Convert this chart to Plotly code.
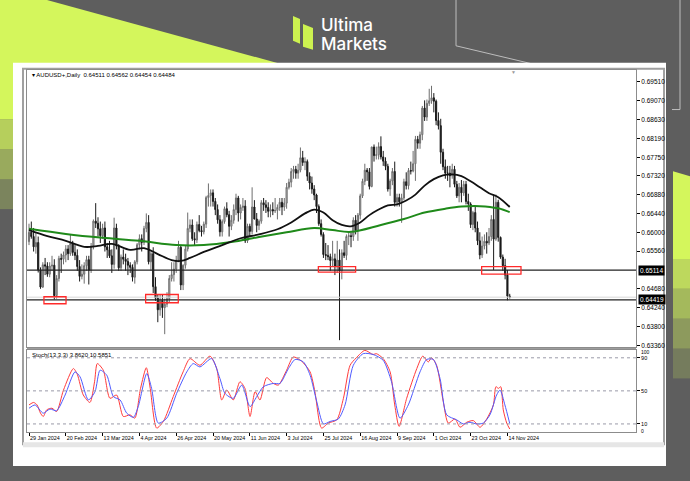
import plotly.graph_objects as go

W, H = 690, 481
def px(x): return x / W
def py(y): return 1 - y / H

# ---------------- data ----------------
tick_labels = ["29 Jan 2024", "20 Feb 2024", "13 Mar 2024", "4 Apr 2024", "26 Apr 2024",
               "20 May 2024", "11 Jun 2024", "3 Jul 2024", "25 Jul 2024", "16 Aug 2024",
               "9 Sep 2024", "1 Oct 2024", "23 Oct 2024", "14 Nov 2024"]
tick_index = [0, 16, 32, 48, 64, 80, 96, 112, 128, 144, 160, 176, 192, 208]

# daily candles, in pips (price * 10000)
opens = [6578, 6600, 6590, 6566, 6576, 6512, 6472, 6524, 6521, 6502, 6521, 6523, 6452, 6492, 6539, 6537, 6547, 6561, 6550, 6574,
         6553, 6546, 6520, 6497, 6502, 6522, 6536, 6511, 6568, 6626, 6621, 6608, 6592, 6610, 6566, 6559, 6545, 6525, 6610, 6568,
         6517, 6542, 6537, 6532, 6523, 6518, 6495, 6531, 6571, 6585, 6576, 6609, 6623, 6531, 6550, 6473, 6446, 6419, 6441, 6424,
         6432, 6445, 6492, 6501, 6514, 6535, 6565, 6477, 6523, 6561, 6609, 6617, 6585, 6582, 6618, 6604, 6601, 6619, 6681, 6686,
         6692, 6672, 6653, 6629, 6601, 6625, 6655, 6641, 6614, 6628, 6653, 6680, 6645, 6658, 6661, 6580, 6614, 6602, 6659, 6631,
         6616, 6626, 6669, 6664, 6658, 6649, 6653, 6650, 6651, 6658, 6670, 6659, 6668, 6705, 6717, 6742, 6747, 6738, 6745, 6774,
         6763, 6765, 6731, 6715, 6701, 6687, 6660, 6620, 6595, 6548, 6546, 6543, 6534, 6538, 6521, 6535, 6510, 6552, 6546, 6590,
         6592, 6590, 6628, 6604, 6640, 6685, 6719, 6745, 6741, 6707, 6799, 6779, 6781, 6800, 6776, 6766, 6754, 6701, 6720, 6742,
         6670, 6681, 6671, 6680, 6718, 6709, 6744, 6743, 6760, 6817, 6808, 6828, 6890, 6869, 6901, 6907, 6914, 6906, 6861, 6849,
         6787, 6753, 6738, 6738, 6732, 6747, 6712, 6685, 6705, 6692, 6712, 6672, 6666, 6618, 6646, 6610, 6580, 6547, 6568, 6579,
         6575, 6590, 6630, 6584, 6670, 6588, 6542, 6522, 6500, 6451.1]
highs = [6620, 6625, 6610, 6600, 6590, 6518, 6530, 6540, 6530, 6530, 6545, 6537, 6500, 6545, 6550, 6555, 6570, 6570, 6595, 6580,
         6570, 6560, 6535, 6525, 6530, 6545, 6545, 6575, 6630, 6668, 6635, 6625, 6620, 6625, 6575, 6580, 6560, 6634, 6620, 6572,
         6548, 6560, 6550, 6540, 6530, 6525, 6535, 6575, 6595, 6595, 6615, 6644, 6640, 6555, 6565, 6495, 6455, 6455, 6455, 6445,
         6460, 6500, 6530, 6530, 6545, 6580, 6570, 6525, 6570, 6646, 6630, 6630, 6600, 6625, 6640, 6615, 6625, 6685, 6714, 6700,
         6700, 6680, 6665, 6640, 6630, 6660, 6670, 6650, 6640, 6665, 6690, 6685, 6665, 6680, 6675, 6620, 6620, 6705, 6675, 6645,
         6630, 6675, 6680, 6675, 6670, 6665, 6670, 6680, 6665, 6680, 6680, 6680, 6715, 6725, 6750, 6755, 6755, 6760, 6798, 6790,
         6775, 6770, 6740, 6730, 6710, 6690, 6665, 6630, 6600, 6575, 6570, 6550, 6580, 6550, 6580, 6560, 6560, 6580, 6595, 6600,
         6600, 6635, 6640, 6645, 6690, 6725, 6760, 6750, 6750, 6800, 6805, 6800, 6810, 6824, 6790, 6775, 6760, 6725, 6750, 6765,
         6690, 6690, 6690, 6725, 6740, 6750, 6765, 6790, 6825, 6825, 6835, 6895, 6908, 6910, 6935, 6942, 6925, 6910, 6880, 6865,
         6795, 6770, 6755, 6755, 6760, 6755, 6720, 6715, 6722, 6720, 6720, 6690, 6670, 6650, 6660, 6625, 6600, 6590, 6595, 6600,
         6610, 6640, 6688, 6688, 6676, 6590, 6548, 6538, 6512, 6456.2]
lows = [6570, 6585, 6555, 6550, 6506, 6468, 6470, 6500, 6496, 6495, 6510, 6443, 6445, 6485, 6505, 6525, 6530, 6535, 6545, 6545,
        6535, 6510, 6485, 6490, 6480, 6510, 6478, 6505, 6560, 6610, 6590, 6575, 6585, 6555, 6540, 6540, 6505, 6515, 6560, 6510,
        6510, 6525, 6510, 6500, 6505, 6485, 6480, 6525, 6560, 6555, 6570, 6600, 6525, 6510, 6458, 6440, 6390, 6405, 6400, 6362,
        6425, 6435, 6485, 6485, 6505, 6530, 6465, 6465, 6515, 6555, 6600, 6580, 6570, 6575, 6600, 6590, 6595, 6610, 6660, 6660,
        6660, 6640, 6620, 6590, 6590, 6620, 6635, 6590, 6605, 6620, 6640, 6625, 6630, 6650, 6575, 6575, 6590, 6595, 6630, 6600,
        6605, 6620, 6650, 6645, 6635, 6635, 6640, 6645, 6630, 6650, 6640, 6650, 6655, 6700, 6705, 6725, 6725, 6725, 6740, 6755,
        6745, 6720, 6700, 6690, 6675, 6645, 6615, 6590, 6540, 6535, 6535, 6510, 6520, 6500, 6505, 6348, 6490, 6540, 6535, 6570,
        6565, 6580, 6595, 6580, 6630, 6680, 6710, 6720, 6700, 6705, 6765, 6770, 6770, 6770, 6755, 6745, 6695, 6685, 6710, 6660,
        6660, 6660, 6622, 6675, 6700, 6700, 6735, 6740, 6720, 6795, 6795, 6815, 6860, 6860, 6895, 6900, 6880, 6850, 6840, 6760,
        6745, 6725, 6720, 6705, 6725, 6705, 6680, 6670, 6670, 6685, 6665, 6650, 6610, 6605, 6600, 6570, 6537, 6540, 6560, 6550,
        6570, 6580, 6512, 6580, 6578, 6538, 6510, 6490, 6441, 6445.4]
closes = [6600, 6590, 6566, 6576, 6512, 6472, 6524, 6521, 6502, 6521, 6523, 6452, 6492, 6539, 6537, 6547, 6561, 6550, 6574, 6553,
          6546, 6520, 6497, 6502, 6522, 6536, 6511, 6568, 6626, 6621, 6608, 6592, 6610, 6566, 6559, 6545, 6525, 6610, 6568, 6517,
          6542, 6537, 6532, 6523, 6518, 6495, 6531, 6571, 6585, 6576, 6609, 6623, 6531, 6550, 6473, 6446, 6419, 6441, 6424, 6432,
          6445, 6492, 6501, 6514, 6535, 6565, 6477, 6523, 6561, 6609, 6617, 6585, 6582, 6618, 6604, 6601, 6619, 6681, 6686, 6692,
          6672, 6653, 6629, 6601, 6625, 6655, 6641, 6614, 6628, 6653, 6680, 6645, 6658, 6661, 6580, 6614, 6602, 6659, 6631, 6616,
          6626, 6669, 6664, 6658, 6649, 6653, 6650, 6651, 6658, 6670, 6659, 6668, 6705, 6717, 6742, 6747, 6738, 6745, 6774, 6763,
          6765, 6731, 6715, 6701, 6687, 6660, 6620, 6595, 6548, 6546, 6543, 6534, 6538, 6521, 6535, 6510, 6552, 6546, 6590, 6592,
          6590, 6628, 6604, 6640, 6685, 6719, 6745, 6741, 6707, 6799, 6779, 6781, 6800, 6776, 6766, 6754, 6701, 6720, 6742, 6670,
          6681, 6671, 6680, 6718, 6709, 6744, 6743, 6760, 6817, 6808, 6828, 6890, 6869, 6901, 6907, 6914, 6906, 6861, 6849, 6787,
          6753, 6738, 6738, 6732, 6747, 6712, 6685, 6705, 6692, 6712, 6672, 6666, 6618, 6646, 6610, 6580, 6547, 6568, 6579, 6575,
          6590, 6630, 6584, 6670, 6588, 6542, 6522, 6500, 6451.1, 6448.4]

# moving averages (black = fast, green = slow), sampled at bar indices
ma_black_idx = [0, 8, 16, 24, 30, 36, 44, 50, 56, 62, 66, 70, 76, 84, 92, 100, 108, 114, 120, 124, 128, 132, 136, 140,
                144, 148, 152, 156, 160, 164, 168, 172, 176, 180, 184, 188, 192, 196, 200, 204, 209]
ma_black = [0.6605, 0.6591, 0.6580, 0.6566, 0.6568, 0.6573, 0.6559, 0.6563, 0.6549, 0.6535, 0.6533, 0.6540, 0.6554, 0.6570,
            0.6586, 0.6595, 0.6607, 0.6623, 0.6644, 0.6653, 0.6646, 0.6628, 0.6617, 0.6614, 0.6623, 0.6640, 0.6653, 0.6663,
            0.6665, 0.6674, 0.6688, 0.6709, 0.6724, 0.6733, 0.6735, 0.6731, 0.6719, 0.6705, 0.6691, 0.6682, 0.6659]
ma_green_idx = [0, 16, 32, 48, 64, 76, 88, 100, 112, 124, 132, 140, 153, 163, 172, 181, 188, 196, 204, 209]
ma_green = [0.6608, 0.6596, 0.6587, 0.6580, 0.6570, 0.6570, 0.6577, 0.6589, 0.6600, 0.6610, 0.6605, 0.6601, 0.6617,
            0.6631, 0.6646, 0.6655, 0.6660, 0.6661, 0.6656, 0.6647]

# Stochastic(13,3,3): red = main, blue = signal
stoch_k_idx = [0, 2, 3.5, 5, 6.2, 7.7, 10, 12, 15, 19.3, 21, 23.6, 26.5, 28.5, 29.7, 32.3, 35.2, 38.1, 41, 43.9, 46,
               48.5, 51, 52.7, 55.5, 58.4, 62.7, 67, 70, 74.3, 78.7, 81.6, 83.8, 86, 88.8, 91.7, 93.9, 96.1, 98.3,
               100.4, 103.3, 106.2, 108.4, 112, 114.9, 118.5, 122.2, 124.3, 127.2, 130.1, 133.8, 136.7, 139.6,
               142.3, 146, 149.6, 151, 154, 157, 159, 160.9, 164.2, 168.6, 171.2, 173.6, 175, 177.2, 180.1, 182.3,
               185.2, 187.4, 190.3, 193.2, 196.1, 199, 201.9, 203, 204.1, 205.1, 206.2, 207.7, 209]
stoch_k = [33, 36, 33, 23, 19, 27, 29, 25, 51, 77, 70, 45, 36, 61, 83, 75, 41, 45, 19, 21, 17,
           53, 78, 53, 5, 13, 43, 73, 89, 81, 92, 77, 39, 51, 39, 61, 53, 19, 49,
           39, 66, 59, 57, 75, 91, 86, 73, 49, 5, 11, 15, 41, 81,
           90, 99, 94, 95, 89, 73, 33, 7, 41, 77, 92, 85, 90, 81, 37, 11,
           16, 6, 12, 14, 6, 16, 33, 55, 53, 55, 27, 11, 3.86]
stoch_d_idx = [0, 2.6, 6.2, 9.1, 12, 15.7, 20, 22.2, 25.8, 28.7, 30.9, 33.8, 36.7, 39.6, 42.5, 45.4, 47.5, 51.2,
               53.3, 56.2, 59.9, 64.2, 68.6, 71.4, 74.3, 79.4, 83, 85.2, 88.8, 92.5, 96.1, 99, 101.9, 106.2, 109.1,
               112.8, 115.7, 119.3, 122.2, 125.1, 128, 130.9, 134.5, 137.4, 141, 145.3, 149.6, 154, 157.6, 161.3,
               164.9, 170, 172.9, 175.8, 178.7, 181.6, 185.9, 188.8, 191.7, 194.6, 197.5, 200.4, 203.3, 204.8,
               206.9, 209]
stoch_d = [29, 33, 23, 28, 26, 45, 73, 67, 39, 49, 75, 69, 43, 39, 23, 18, 31, 71,
           53, 11, 17, 47, 73, 83, 79, 89, 65, 47, 41, 57, 31, 43, 55, 59, 59,
           77, 88, 85, 69, 37, 10, 13, 16, 33, 81, 95, 94, 87, 61, 17,
           33, 73, 88, 88, 65, 21, 15, 10, 12, 10, 11, 21, 45, 51,
           33, 10.59]

level_hi = 0.65114
level_lo = 0.64419
bid = 0.64484
y_ticks = [0.69510, 0.69070, 0.68630, 0.68190, 0.67750, 0.67320, 0.66880, 0.66440, 0.66000, 0.65560,
           0.64680, 0.64240, 0.63800, 0.63360]
stoch_ticks = [10, 50, 90]
# red highlight boxes: (start bar, end bar, low price, high price)
boxes = [(6.5, 16.1, 0.64331, 0.64494), (50.7, 64.9, 0.64354, 0.64547),
         (125.8, 142.0, 0.65068, 0.65199), (196.8, 213.9, 0.65022, 0.65199)]

# ---------------- figure ----------------
idx = list(range(len(closes)))
P = 10000.0
fig = go.Figure()
fig.add_trace(go.Candlestick(
    x=idx, open=[v / P for v in opens], high=[v / P for v in highs],
    low=[v / P for v in lows], close=[v / P for v in closes],
    increasing=dict(line=dict(color="#6e6e6e", width=1), fillcolor="#c8c8c8"),
    decreasing=dict(line=dict(color="#1a1a1a", width=1), fillcolor="#1a1a1a"),
    whiskerwidth=0, xaxis="x", yaxis="y", hoverinfo="skip"))
fig.add_trace(go.Scatter(x=ma_green_idx, y=ma_green, mode="lines", line=dict(color="#1f8a1a", width=2, shape="spline"),
                         xaxis="x", yaxis="y", hoverinfo="skip"))
fig.add_trace(go.Scatter(x=ma_black_idx, y=ma_black, mode="lines", line=dict(color="#111111", width=1.8, shape="spline"),
                         xaxis="x", yaxis="y", hoverinfo="skip"))
fig.add_trace(go.Scatter(x=stoch_k_idx, y=stoch_k, mode="lines",
                         line=dict(color="#ff3b3b", width=1, shape="spline", smoothing=0.7),
                         xaxis="x2", yaxis="y2", hoverinfo="skip"))
fig.add_trace(go.Scatter(x=stoch_d_idx, y=stoch_d, mode="lines",
                         line=dict(color="#4f5bff", width=1, shape="spline", smoothing=0.7),
                         xaxis="x2", yaxis="y2", hoverinfo="skip"))

xl, xr = 27, 636
xrange = [-0.87, 263.9]
y_top_price = 0.6951 + (82.3 - 70) / 4300
y_bot_price = 0.6951 - (348 - 82.3) / 4300

axis_font = dict(family="Liberation Sans", size=6.5, color="#000000")
date_font = dict(family="Liberation Sans", size=5.4, color="#000000")
fig.update_layout(
    width=W, height=H, margin=dict(l=0, r=0, t=0, b=0),
    paper_bgcolor="#5e5e5e", plot_bgcolor="rgba(0,0,0,0)", showlegend=False,
    font=dict(family="Liberation Sans", size=6.5, color="#000000"),
    xaxis=dict(domain=[px(xl), px(xr)], range=xrange, anchor="y", showticklabels=False, showgrid=False,
               zeroline=False, showline=True, mirror=True, linecolor="#8c8c8c", linewidth=1,
               rangeslider=dict(visible=False), fixedrange=True),
    yaxis=dict(domain=[py(348), py(70)], range=[y_bot_price, y_top_price], anchor="x", side="right",
               tickvals=y_ticks, ticktext=[f"{v:.5f}" for v in y_ticks], ticks="outside", ticklen=3,
               tickcolor="#000", tickfont=axis_font, showgrid=False, zeroline=False, showline=True,
               mirror=True, linecolor="#8c8c8c", linewidth=1, fixedrange=True),
    xaxis2=dict(domain=[px(xl), px(xr)], range=xrange, anchor="y2", matches="x", tickvals=tick_index,
                ticktext=tick_labels, ticks="outside", ticklen=3, tickcolor="#000", tickfont=date_font,
                tickangle=0, ticklabelposition="outside right", showgrid=False, zeroline=False, showline=True,
                mirror=True, linecolor="#8c8c8c", linewidth=1, fixedrange=True),
    yaxis2=dict(domain=[py(434), py(351)], range=[0, 100], anchor="x2", side="right",
                tickvals=stoch_ticks, ticktext=[str(v) for v in stoch_ticks], ticks="outside",
                ticklen=3, tickcolor="#000", tickfont=dict(family="Liberation Sans", size=5.5, color="#000"),
                showgrid=False, zeroline=False,
                showline=True, mirror=True, linecolor="#8c8c8c", linewidth=1, fixedrange=True),
)

shapes = []
# --- background decoration (paper coords) ---
lime = "#d4f65c"
shapes.append(dict(type="path", xref="paper", yref="paper", layer="below", line=dict(width=0), fillcolor=lime,
                   path=f"M {px(0)},{py(0)} L {px(47)},{py(0)} L {px(280)},{py(64)} L {px(0)},{py(64)} Z"))
shapes.append(dict(type="rect", xref="paper", yref="paper", layer="below", line=dict(width=0), fillcolor=lime,
                   x0=px(0), x1=px(16), y0=py(120), y1=py(60)))
for k, (a, b) in enumerate([(120, 150), (150, 180), (180, 210)]):
    shapes.append(dict(type="rect", xref="paper", yref="paper", layer="below", line=dict(width=0),
                       fillcolor=lime, opacity=0.75 - 0.25 * k, x0=px(0), x1=px(16), y0=py(b), y1=py(a)))
# right margin lime gradient
shapes.append(dict(type="path", xref="paper", yref="paper", layer="below", line=dict(width=0), fillcolor=lime,
                   path=f"M {px(673)},{py(172)} L {px(690)},{py(177)} L {px(690)},{py(260)} L {px(673)},{py(260)} Z"))
for k, (a, b) in enumerate([(260, 290), (290, 320), (320, 350), (350, 380)]):
    shapes.append(dict(type="rect", xref="paper", yref="paper", layer="below", line=dict(width=0),
                       fillcolor=lime, opacity=0.8 - 0.2 * k, x0=px(673), x1=px(690), y0=py(b), y1=py(a)))
# thin outline decoration, top right
shapes.append(dict(type="path", xref="paper", yref="paper", layer="below", line=dict(color="#bdbdbd", width=1),
                   path=f"M {px(456)},{py(0)} L {px(456)},{py(46)} L {px(540)},{py(66)}"))
shapes.append(dict(type="path", xref="paper", yref="paper", layer="below", line=dict(color="#bdbdbd", width=1),
                   path=f"M {px(680)},{py(0)} L {px(680)},{py(110)} L {px(672)},{py(110)}"))
# white panel
shapes.append(dict(type="rect", xref="paper", yref="paper", layer="below", line=dict(width=0), fillcolor="#ffffff",
                   x0=px(13), x1=px(666), y0=py(468), y1=py(63)))
# MT4 window frame
shapes.append(dict(type="rect", xref="paper", yref="paper", layer="below", line=dict(color="#a0a0a0", width=2),
                   fillcolor="rgba(0,0,0,0)", x0=px(23), x1=px(664), y0=py(446), y1=py(69)))
shapes.append(dict(type="line", xref="paper", yref="paper", layer="below", line=dict(color="#9a9a9a", width=1),
                   x0=px(27), x1=px(636), y0=py(350), y1=py(350)))
shapes.append(dict(type="rect", xref="paper", yref="paper", layer="below", line=dict(width=0), fillcolor="#e6e6e6",
                   x0=px(23), x1=px(664), y0=py(449), y1=py(444)))

# --- chart annotations ---
for lv in (level_hi, level_lo):
    shapes.append(dict(type="line", xref="x domain", yref="y", x0=0, x1=1, y0=lv, y1=lv,
                       line=dict(color="#222222", width=1.2)))
shapes.append(dict(type="line", xref="x domain", yref="y", x0=0, x1=1, y0=bid, y1=bid,
                   line=dict(color="#d8d8d8", width=1)))
for x0, x1, y0, y1 in boxes:
    shapes.append(dict(type="rect", xref="x", yref="y", x0=x0, x1=x1, y0=y0, y1=y1,
                       line=dict(color="#ff2a2a", width=1.3), fillcolor="rgba(0,0,0,0)"))
for lv in stoch_ticks:
    shapes.append(dict(type="line", xref="x2 domain", yref="y2", x0=0, x1=1, y0=lv, y1=lv,
                       line=dict(color="#9a9aa8", width=1, dash="dot")))

# --- logo icon ---
logo = "#cdf250"
shapes.append(dict(type="path", xref="paper", yref="paper", line=dict(width=0), fillcolor=logo,
                   path=f"M {px(293)},{py(16)} L {px(300)},{py(19)} L {px(300)},{py(44)} L {px(293)},{py(41)} Z"))
shapes.append(dict(type="path", xref="paper", yref="paper", line=dict(width=0), fillcolor=logo,
                   path=f"M {px(303)},{py(24)} L {px(313)},{py(28)} L {px(313)},{py(50)} L {px(303)},{py(47)} Z"))

annotations = [
    dict(xref="paper", yref="paper", x=px(319), y=py(25), text="Ultima", showarrow=False, xanchor="left",
         yanchor="middle", font=dict(family="Inter", size=17, color="#ffffff", weight=500)),
    dict(xref="paper", yref="paper", x=px(319), y=py(44.5), text="Markets", showarrow=False, xanchor="left",
         yanchor="middle", font=dict(family="Inter", size=17, color="#ffffff", weight=500)),
    dict(xref="paper", yref="paper", x=px(30), y=py(75), text="▾ AUDUSD+,Daily  0.64511 0.64562 0.64454 0.64484",
         showarrow=False, xanchor="left", yanchor="middle", font=dict(family="Liberation Sans", size=6, color="#000")),
    dict(xref="paper", yref="paper", x=px(30), y=py(356), text="Stoch(13,3,3) 3.8620 10.5851",
         showarrow=False, xanchor="left", yanchor="middle", font=dict(family="Liberation Sans", size=6, color="#000")),
    dict(xref="paper", yref="paper", x=px(513), y=py(72), text="▼", showarrow=False, xanchor="center",
         yanchor="middle", font=dict(size=5, color="#9a9a9a")),
    dict(xref="paper", yref="paper", x=px(639), y=py(353.5), text="100", showarrow=False, xanchor="left",
         yanchor="middle", font=dict(family="Liberation Sans", size=5, color="#000")),
    dict(xref="paper", yref="paper", x=px(639), y=py(432.5), text="0", showarrow=False, xanchor="left",
         yanchor="middle", font=dict(family="Liberation Sans", size=5, color="#000")),
]
for lv in (level_hi, level_lo):
    annotations.append(dict(xref="paper", yref="y", x=px(638), y=lv, text=f"{lv:.5f}", showarrow=False,
                            xanchor="left", yanchor="middle", bgcolor="#000000", borderpad=1,
                            font=dict(family="Liberation Sans", size=6.5, color="#ffffff")))

fig.update_layout(shapes=shapes, annotations=annotations)
fig.write_html("out.html", config={"displayModeBar": False},
               post_script="document.body.style.margin='0';document.body.style.overflow='hidden';")
